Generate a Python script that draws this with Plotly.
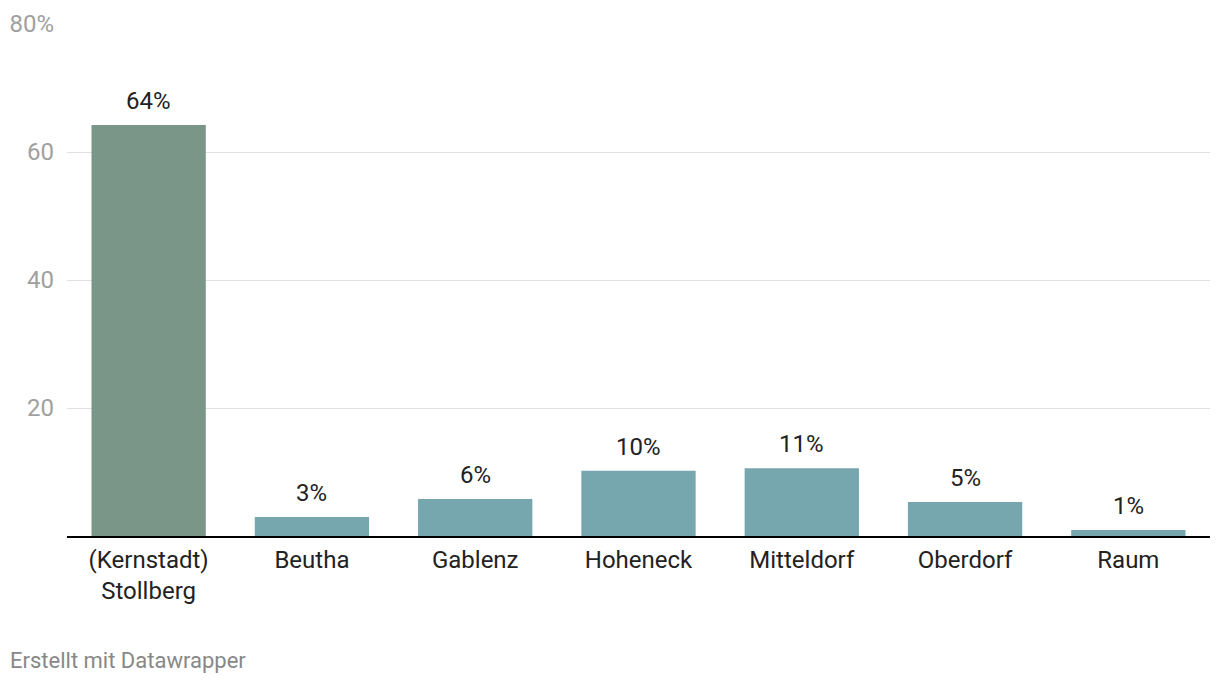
import plotly.graph_objects as go

categories = ["(Kernstadt)<br>Stollberg", "Beutha", "Gablenz", "Hoheneck", "Mitteldorf", "Oberdorf", "Raum"]
values = [64.2, 2.97, 5.8, 10.2, 10.6, 5.3, 0.94]
value_labels = ["64%", "3%", "6%", "10%", "11%", "5%", "1%"]
bar_colors = ["#7a9689", "#76a6ae", "#76a6ae", "#76a6ae", "#76a6ae", "#76a6ae", "#76a6ae"]
y_tickvals = [20, 40, 60, 80]
y_ticktext = ["20", "40", "60", "80%"]

FONT = "Roboto"

fig = go.Figure()
fig.add_trace(go.Bar(
    x=categories, y=values, marker=dict(color=bar_colors, line=dict(width=0)),
    hoverinfo="skip",
))

for c, v, t in zip(categories, values, value_labels):
    fig.add_annotation(x=c, y=v, text=t, showarrow=False, yanchor="bottom",
                       yshift=8, font=dict(family=FONT, size=24, color="#222222"))

fig.add_annotation(xref="paper", yref="paper", x=-0.052, y=-0.243, xanchor="left", yanchor="middle",
                   text="Erstellt mit Datawrapper", showarrow=False,
                   font=dict(family=FONT, size=22, color="#888888"))

fig.update_layout(
    width=1220, height=684,
    margin=dict(l=67, r=10, t=24, b=148),
    plot_bgcolor="white", paper_bgcolor="white",
    bargap=0.3, showlegend=False,
    font=dict(family=FONT),
)
fig.update_xaxes(
    showline=True, linecolor="#000000", linewidth=2, showgrid=False, ticks="",
    tickfont=dict(family=FONT, size=24, color="#222222"), ticklabelstandoff=1,
)
fig.update_yaxes(
    range=[0, 80], tickvals=y_tickvals, ticktext=y_ticktext, showgrid=True,
    gridcolor="#e0e0e0", gridwidth=1, zeroline=False, showline=False, ticks="",
    tickfont=dict(family=FONT, size=24, color="#a0a0a0"), ticklabelstandoff=12,
)

fig.write_html("out.html")
